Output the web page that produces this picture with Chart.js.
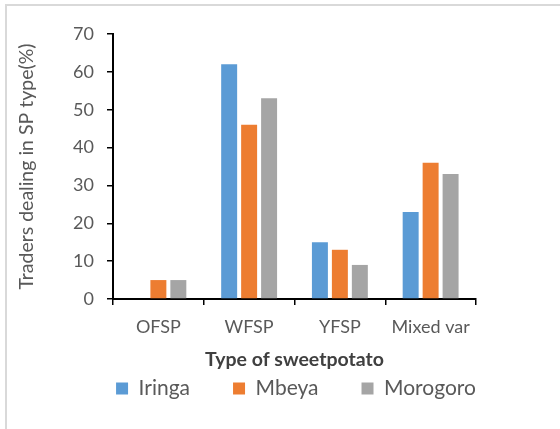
<!DOCTYPE html>
<html>
<head>
<meta charset="utf-8">
<script src="https://cdn.jsdelivr.net/npm/chart.js@4"></script>
<style>
  html, body { margin: 0; padding: 0; background: #fff; overflow: hidden; }
  #wrap { position: relative; width: 560px; height: 429px; overflow: hidden; }
  #frame { position: absolute; left: 5px; top: 4px; width: 560px; height: 440px;
           border-top: 2px solid #d9d9d9; border-left: 2px solid #d9d9d9; pointer-events: none; }
  canvas { position: absolute; left: 0; top: 0; }
</style>
</head>
<body>
<div id="wrap">
  <canvas id="c" width="592" height="429"></canvas>
  <div id="frame"></div>
</div>
<script>
const categories = ['OFSP', 'WFSP', 'YFSP', 'Mixed var'];
const seriesNames = ['Iringa', 'Mbeya', 'Morogoro'];
const iringa = [0, 62, 15, 23];
const mbeya = [5, 46, 13, 36];
const morogoro = [5, 53, 9, 33];
const yTicks = [0, 10, 20, 30, 40, 50, 60, 70];
const colors = ['#5B9BD5', '#ED7D31', '#A5A5A5'];

const FONT = 'Lato, "Open Sans", sans-serif';
const GRAY = '#595959';

new Chart(document.getElementById('c'), {
  type: 'bar',
  data: {
    labels: categories,
    datasets: [iringa, mbeya, morogoro].map((d, i) => ({
      label: seriesNames[i],
      data: d,
      backgroundColor: colors[i],
      borderWidth: 0,
      categoryPercentage: 0.66,
      barPercentage: 0.8
    }))
  },
  options: {
    responsive: false,
    animation: false,
    devicePixelRatio: 1,
    layout: { padding: { top: 34, left: 0, right: 0, bottom: 20 } },
    plugins: {
      tooltip: { enabled: false },
      legend: {
        position: 'bottom',
        labels: {
          boxWidth: 12, boxHeight: 12, padding: 43,
          color: GRAY,
          font: { family: FONT, size: 21 }
        }
      }
    },
    scales: {
      x: {
        grid: { display: true, drawOnChartArea: false, drawTicks: true, tickLength: 6, color: '#000', lineWidth: 1.5, offset: true },
        border: { display: true, color: '#000', width: 2 },
        ticks: { color: GRAY, font: { family: FONT, size: 18 }, padding: 11 },
        title: {
          display: true, text: 'Type of sweetpotato', color: '#404040',
          font: { family: FONT, size: 19.5, weight: 'bold' },
          padding: { top: 0, bottom: -36 }
        },
        afterFit: s => { s.height = 36; }
      },
      y: {
        min: 0, max: 70,
        afterBuildTicks: s => { s.ticks = yTicks.map(v => ({ value: v })); },
        grid: { display: true, drawOnChartArea: false, drawTicks: true, tickLength: 6, color: '#000', lineWidth: 1.5 },
        border: { display: true, color: '#000', width: 2 },
        ticks: { color: GRAY, font: { family: FONT, size: 18 }, padding: 13 },
        title: {
          display: true, text: 'Traders dealing in SP type(%)', color: GRAY,
          font: { family: FONT, size: 19.5 },
          padding: { top: 15, bottom: 0 }
        },
        afterFit: s => { s.width = 113; }
      },
      spacer: {
        type: 'linear', position: 'right', display: true,
        grid: { display: false }, border: { display: false }, ticks: { display: false },
        afterFit: s => { s.width = 116; }
      }
    }
  }
});
</script>
</body>
</html>
